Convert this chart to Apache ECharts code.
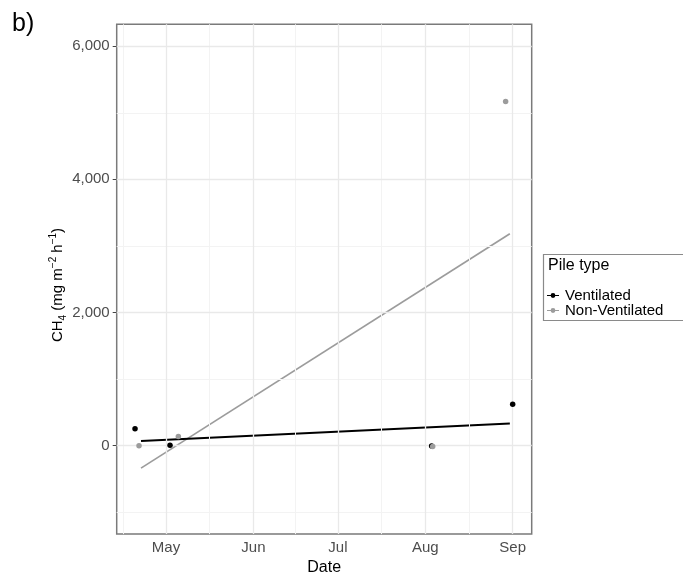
<!DOCTYPE html>
<html><head><meta charset="utf-8">
<script src="https://cdn.jsdelivr.net/npm/echarts@6/dist/echarts.min.js"></script>
<style>html,body{margin:0;padding:0;background:#fff}#c{width:683px;height:581px}</style>
</head><body><div id="c"></div>
<script>
// ---- data ----
const ventDates = ['2022-04-20T00:00', '2022-05-02T10:00', '2022-08-03T06:00', '2022-09-01T00:00'];
const ventValues = [251, 2, -10, 619];
const nonVentDates = ['2022-04-21T10:00', '2022-05-05T09:00', '2022-08-03T15:00', '2022-08-29T12:00'];
const nonVentValues = [-5, 136, -15, 5171];
const ventFitDates = ['2022-04-22T03:00', '2022-08-31T00:00'];
const ventFitValues = [68, 331];
const nonVentFitDates = ['2022-04-22T03:00', '2022-08-31T00:00'];
const nonVentFitValues = [-341, 3181];
const xTickDates = ['2022-05-01T00:00', '2022-06-01T00:00', '2022-07-01T00:00', '2022-08-01T00:00', '2022-09-01T00:00'];
const xTickLabels = ['May', 'Jun', 'Jul', 'Aug', 'Sep'];
const xMinorDates = ['2022-04-16T00:00', '2022-05-16T12:00', '2022-06-16T00:00', '2022-07-16T12:00', '2022-08-16T12:00'];
const yTickValues = [0, 2000, 4000, 6000];
const yTickLabels = ['0', '2,000', '4,000', '6,000'];
const yMinorValues = [-1000, 1000, 3000, 5000];
const xRange = ['2022-04-13T12:00', '2022-09-07T18:00'];
const yRange = [-1333, 6331];
const seriesNames = ['Ventilated', 'Non-Ventilated'];
const legendTitle = 'Pile type';

// ---- helpers ----
const T = s => new Date(s).getTime();
const pairs = (ds, vs) => ds.map((d, i) => [T(d), vs[i]]);
const xTicks = xTickDates.map(T);

const BLACK = '#000000', GREY = '#9c9c9c';
const FONT = 'Liberation Sans, Arial, sans-serif';
const keyIcon = 'path://M0,3.4L12,3.4L12,4.6L0,4.6Z M3.6,4A2.4,2.4 0 1,1 8.4,4A2.4,2.4 0 1,1 3.6,4Z';

const chart = echarts.init(document.getElementById('c'), null, {renderer: 'canvas'});
chart.setOption({
  animation: false,
  backgroundColor: '#ffffff',
  textStyle: {fontFamily: FONT},
  grid: {left: 116.7, right: 151.3, top: 24.3, bottom: 35.3, show: true,
         borderColor: '#7a7a7a', borderWidth: 1.5, backgroundColor: 'transparent'},
  xAxis: {
    type: 'value', min: T(xRange[0]), max: T(xRange[1]), scale: true,
    axisLine: {show: false},
    axisTick: {show: true, customValues: xTicks, length: 4, lineStyle: {color: '#444', width: 1}},
    axisLabel: {customValues: xTicks, margin: 6, fontSize: 15, color: '#4d4d4d', fontFamily: FONT,
                formatter: v => xTickLabels[xTicks.indexOf(v)] || ''},
    splitLine: {show: false},
    name: 'Date', nameLocation: 'middle', nameGap: 21,
    nameTextStyle: {fontSize: 16, color: '#000', fontFamily: FONT}
  },
  yAxis: {
    type: 'value', min: yRange[0], max: yRange[1],
    axisLine: {show: false},
    axisTick: {show: true, customValues: yTickValues, length: 4, lineStyle: {color: '#444', width: 1}},
    axisLabel: {customValues: yTickValues, margin: 7, fontSize: 15, color: '#4d4d4d', fontFamily: FONT,
                formatter: v => yTickLabels[yTickValues.indexOf(v)]},
    splitLine: {show: false}
  },
  legend: {
    orient: 'vertical', left: 547, top: 288, padding: 0, itemGap: 0,
    itemWidth: 12, itemHeight: 5, selectedMode: false,
    textStyle: {fontSize: 15, color: '#000', lineHeight: 15, fontFamily: FONT, padding: [0, 0, 0, 1]},
    data: [
      {name: seriesNames[0], icon: keyIcon, itemStyle: {color: BLACK}},
      {name: seriesNames[1], icon: keyIcon, itemStyle: {color: GREY}}
    ]
  },
  graphic: [
    {type: 'rect', left: 541, top: 252, shape: {width: 160, height: 66},
     style: {fill: 'none', stroke: '#8a8a8a', lineWidth: 1.2}, z: 0},
    {type: 'text', x: 548, y: 266, style: {text: legendTitle, fontSize: 16, fill: '#000',
     fontFamily: FONT, align: 'left', verticalAlign: 'middle'}},
    {type: 'text', x: 12, y: 24, style: {text: 'b)', fontSize: 25, fill: '#000',
     fontFamily: FONT, align: 'left', verticalAlign: 'middle'}},
    {type: 'text', x: 58, y: 285, rotation: Math.PI / 2,
     style: {
       text: '{a|CH}{sub|4}{a| (mg m}{sup|−2}{a| h}{sup|−1}{a|)}',
       align: 'center', verticalAlign: 'middle', fill: '#000', fontFamily: FONT,
       rich: {
         a: {fontSize: 15, lineHeight: 20, verticalAlign: 'middle', fontFamily: FONT},
         sup: {fontSize: 10, lineHeight: 20, verticalAlign: 'top', fontFamily: FONT},
         sub: {fontSize: 10, lineHeight: 20, verticalAlign: 'bottom', fontFamily: FONT}
       }
     }}
  ],
  series: [
    {type: 'line', name: '_minor', data: [], z: 1, silent: true,
     markLine: {silent: true, symbol: 'none', animation: false, label: {show: false},
       lineStyle: {color: '#f3f3f3', width: 1, type: 'solid'},
       emphasis: {disabled: true},
       data: xMinorDates.map(d => ({xAxis: T(d)})).concat(yMinorValues.map(v => ({yAxis: v})))}},
    {type: 'line', name: '_major', data: [], z: 1, silent: true,
     markLine: {silent: true, symbol: 'none', animation: false, label: {show: false},
       lineStyle: {color: '#e9e9e9', width: 1.3, type: 'solid'},
       emphasis: {disabled: true},
       data: xTicks.map(t => ({xAxis: t})).concat(yTickValues.map(v => ({yAxis: v})))}},
    {type: 'line', name: seriesNames[1], data: pairs(nonVentFitDates, nonVentFitValues), z: 3,
     showSymbol: false, symbol: 'none', lineStyle: {color: GREY, width: 1.7}, itemStyle: {color: GREY}},
    {type: 'line', name: seriesNames[0], data: pairs(ventFitDates, ventFitValues), z: 4,
     showSymbol: false, symbol: 'none', lineStyle: {color: BLACK, width: 2}, itemStyle: {color: BLACK}},
    {type: 'scatter', name: seriesNames[0], data: pairs(ventDates, ventValues), z: 5,
     symbolSize: 5.5, itemStyle: {color: BLACK, opacity: 1}},
    {type: 'scatter', name: seriesNames[1], data: pairs(nonVentDates, nonVentValues), z: 6,
     symbolSize: 5.5, itemStyle: {color: GREY, opacity: 1}}
  ]
});
</script></body></html>
